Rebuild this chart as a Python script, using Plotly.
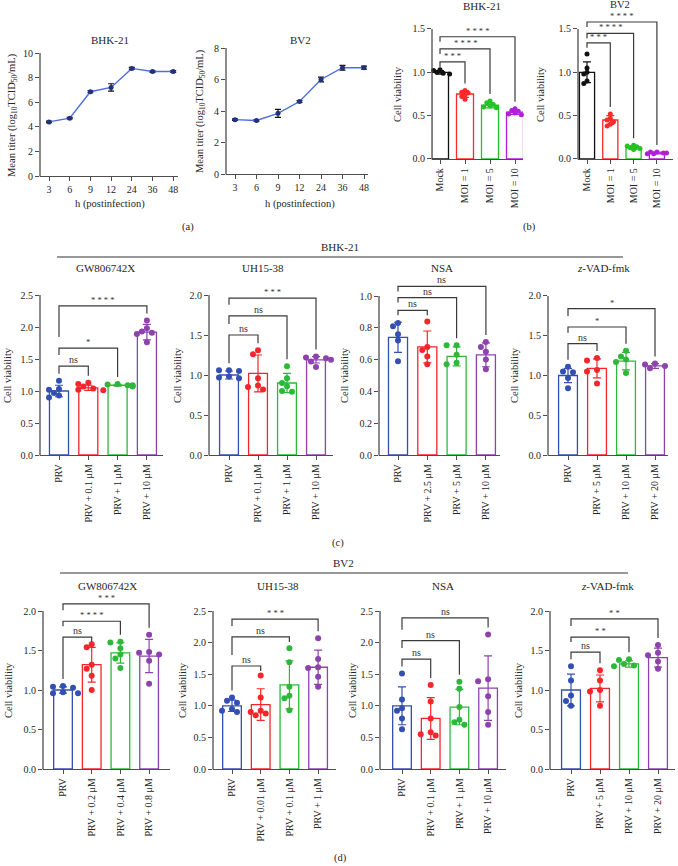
import plotly.graph_objects as go

W, H = 678, 866
FONT = "Liberation Serif"
AXC = "#4d4d4d"
TXT = "#262626"

# ---------------- (a) growth curves ----------------
hours = ["3", "6", "9", "12", "24", "36", "48"]
bhk_titer = [4.4, 4.7, 6.85, 7.2, 8.75, 8.5, 8.5]
bhk_err = [0.06, 0.06, 0.08, 0.3, 0.08, 0.07, 0.07]
bv2_titer = [3.45, 3.4, 3.85, 4.6, 6.0, 6.75, 6.75]
bv2_err = [0.05, 0.05, 0.25, 0.06, 0.15, 0.15, 0.1]

# ---------------- (b) infection dose ----------------
moi_labels = ["Mock", "MOI = 1", "MOI = 5", "MOI = 10"]
b_bhk_mean = [1.0, 0.75, 0.62, 0.54]
b_bhk_sd = [0.02, 0.04, 0.03, 0.025]
b_bhk_pts = [[1.03, 1.02, 1.0, 0.99, 0.98, 0.99], [0.79, 0.77, 0.76, 0.74, 0.72, 0.69],
             [0.67, 0.65, 0.63, 0.61, 0.60, 0.59], [0.58, 0.56, 0.55, 0.53, 0.52, 0.51]]
b_bhk_sig = [(0, 1, 1.12, "***"), (0, 2, 1.27, "****"), (0, 3, 1.41, "****")]
b_bv2_mean = [1.0, 0.45, 0.13, 0.07]
b_bv2_sd = [0.12, 0.05, 0.02, 0.01]
b_bv2_pts = [[1.21, 1.05, 1.0, 0.98, 0.90, 0.87], [0.52, 0.47, 0.45, 0.43, 0.40, 0.38],
             [0.16, 0.15, 0.14, 0.13, 0.12, 0.11], [0.08, 0.08, 0.07, 0.07, 0.06, 0.06]]
b_bv2_sig = [(0, 1, 1.34, "***"), (0, 2, 1.45, "****"), (0, 3, 1.58, "****")]

# ---------------- (c) BHK-21 inhibitors ----------------
c_gw_labels = ["PRV", "PRV + 0.1 μM", "PRV + 1 μM", "PRV + 10 μM"]
c_gw_mean = [1.0, 1.05, 1.09, 1.92]
c_gw_sd = [0.09, 0.04, 0.015, 0.12]
c_gw_pts = [[1.16, 1.03, 1.02, 0.97, 0.93, 0.90], [1.13, 1.11, 1.07, 1.04, 1.02, 1.01],
            [1.11, 1.10, 1.09, 1.09, 1.08, 1.07], [2.10, 1.98, 1.93, 1.91, 1.89, 1.76]]
c_gw_sig = [(0, 1, 1.39, "ns"), (0, 2, 1.67, "*"), (0, 3, 2.33, "****")]

c_uh_labels = ["PRV", "PRV + 0.1 μM", "PRV + 1 μM", "PRV + 10 μM"]
c_uh_mean = [1.0, 1.02, 0.90, 1.19]
c_uh_sd = [0.05, 0.23, 0.12, 0.04]
c_uh_pts = [[1.06, 1.06, 1.05, 0.98, 0.97, 0.96], [1.31, 1.26, 0.96, 0.87, 0.85, 0.82],
            [1.11, 0.96, 0.90, 0.86, 0.80, 0.79], [1.23, 1.22, 1.21, 1.19, 1.17, 1.10]]
c_uh_sig = [(0, 1, 1.50, "ns"), (0, 2, 1.74, "ns"), (0, 3, 1.96, "***")]

c_nsa_labels = ["PRV", "PRV + 2.5 μM", "PRV + 5 μM", "PRV + 10 μM"]
c_nsa_mean = [0.74, 0.68, 0.62, 0.63]
c_nsa_sd = [0.095, 0.10, 0.06, 0.075]
c_nsa_pts = [[0.83, 0.81, 0.76, 0.72, 0.59], [0.84, 0.68, 0.66, 0.62, 0.57],
             [0.69, 0.69, 0.63, 0.58, 0.57], [0.71, 0.68, 0.65, 0.60, 0.54]]
c_nsa_sig = [(0, 1, 0.91, "ns"), (0, 2, 0.99, "ns"), (0, 3, 1.06, "ns")]

c_zvad_labels = ["PRV", "PRV + 5 μM", "PRV + 10 μM", "PRV + 20 μM"]
c_zvad_mean = [1.0, 1.09, 1.18, 1.12]
c_zvad_sd = [0.09, 0.12, 0.11, 0.03]
c_zvad_pts = [[1.11, 1.05, 1.04, 0.97, 0.84], [1.22, 1.19, 1.07, 1.05, 0.90],
              [1.31, 1.24, 1.20, 1.17, 1.03], [1.15, 1.14, 1.12, 1.11, 1.09]]
c_zvad_sig = [(0, 1, 1.40, "ns"), (0, 2, 1.61, "*"), (0, 3, 1.84, "*")]

# ---------------- (d) BV2 inhibitors ----------------
d_gw_labels = ["PRV", "PRV + 0.2 μM", "PRV + 0.4 μM", "PRV + 0.8 μM"]
d_gw_mean = [1.0, 1.32, 1.47, 1.43]
d_gw_sd = [0.04, 0.22, 0.13, 0.21]
d_gw_pts = [[1.05, 1.04, 1.03, 0.97, 0.96, 0.96], [1.58, 1.54, 1.32, 1.27, 1.18, 1.0],
            [1.61, 1.60, 1.53, 1.45, 1.40, 1.28], [1.70, 1.48, 1.47, 1.45, 1.37, 1.08]]
d_gw_sig = [(0, 1, 1.67, "ns"), (0, 2, 1.87, "****"), (0, 3, 2.09, "***")]

d_uh_labels = ["PRV", "PRV + 0.01 μM", "PRV + 0.1 μM", "PRV + 1 μM"]
d_uh_mean = [1.0, 1.02, 1.33, 1.61]
d_uh_sd = [0.09, 0.25, 0.38, 0.27]
d_uh_pts = [[1.13, 1.08, 1.05, 0.95, 0.92, 0.90], [1.48, 1.13, 0.92, 0.90, 0.88, 0.85],
            [1.91, 1.69, 1.30, 1.16, 1.12, 0.93], [2.07, 1.74, 1.61, 1.60, 1.46, 1.30]]
d_uh_sig = [(0, 1, 1.63, "ns"), (0, 2, 2.09, "ns"), (0, 3, 2.37, "***")]

d_nsa_labels = ["PRV", "PRV + 0.1 μM", "PRV + 1 μM", "PRV + 10 μM"]
d_nsa_mean = [1.0, 0.80, 0.98, 1.28]
d_nsa_sd = [0.30, 0.33, 0.28, 0.51]
d_nsa_pts = [[1.51, 1.10, 0.96, 0.92, 0.80, 0.63], [1.33, 1.07, 0.80, 0.58, 0.55, 0.53],
             [1.38, 1.27, 0.98, 0.78, 0.74, 0.70], [2.13, 1.42, 1.39, 1.15, 0.90, 0.70]]
d_nsa_sig = [(0, 1, 1.74, "ns"), (0, 2, 2.03, "ns"), (0, 3, 2.39, "ns")]

d_zvad_labels = ["PRV", "PRV + 5 μM", "PRV + 10 μM", "PRV + 20 μM"]
d_zvad_mean = [1.0, 1.02, 1.33, 1.41]
d_zvad_sd = [0.2, 0.17, 0.04, 0.12]
d_zvad_pts = [[1.30, 1.12, 0.93, 0.86, 0.80], [1.25, 1.12, 1.0, 0.98, 0.80],
              [1.39, 1.38, 1.33, 1.31, 1.30], [1.57, 1.47, 1.44, 1.36, 1.27]]
d_zvad_sig = [(0, 1, 1.48, "ns"), (0, 2, 1.67, "**"), (0, 3, 1.90, "**")]

COL4 = ["#3350b0", "#f5262b", "#2db83a", "#8e42ad"]
COLB = ["#111111", "#ff2a2a", "#22c322", "#b21fd8"]

fig = go.Figure()
layout = dict(width=W, height=H, margin=dict(l=0, r=0, t=0, b=0), template="none",
              paper_bgcolor="white", plot_bgcolor="white", showlegend=False,
              font=dict(family=FONT, size=10, color=TXT))
shapes, annotations = [], []


def text(px, py, s, size=11, angle=0, xanchor="center", yanchor="middle"):
    annotations.append(dict(x=px / W, y=1 - py / H, xref="paper", yref="paper", text=s,
                            showarrow=False, textangle=angle, xanchor=xanchor, yanchor=yanchor,
                            font=dict(family=FONT, size=size, color=TXT)))


def setup_axes(n, geo, yticks, xticktext, tickangle, yfmt):
    xl, xr, c0, s, py0, scale, rtop = geo
    sfx = "" if n == 1 else str(n)
    tf = dict(family=FONT, size=10, color=TXT)
    layout["xaxis" + sfx] = dict(domain=[xl / W, xr / W], range=[(xl - c0) / s, (xr - c0) / s],
                                 anchor="y" + sfx, showline=True, linecolor=AXC, linewidth=1.3,
                                 ticks="outside", ticklen=4, tickwidth=1.2, tickcolor=AXC,
                                 tickvals=list(range(len(xticktext))), ticktext=xticktext,
                                 tickangle=tickangle, showgrid=False, zeroline=False,
                                 tickfont=tf, automargin=False, fixedrange=True)
    layout["yaxis" + sfx] = dict(domain=[1 - py0 / H, 1 - (py0 - rtop * scale) / H], range=[0, rtop],
                                 anchor="x" + sfx, showline=False, ticks="outside", ticklen=4,
                                 tickwidth=1.2, tickcolor=AXC, tickvals=yticks, tickformat=yfmt,
                                 showgrid=False, zeroline=False, tickfont=tf, automargin=False,
                                 fixedrange=True)
    shapes.append(dict(type="line", xref="paper", yref="paper", x0=xl / W, x1=xl / W,
                       y0=1 - (py0 + 0.6) / H, y1=1 - (py0 - yticks[-1] * scale) / H,
                       line=dict(color=AXC, width=1.3)))
    return "x" + sfx, "y" + sfx


def swarm(vals, sy, sx, d=5.0, mind=5.6):
    placed, xs = [], [0.0] * len(vals)
    order = sorted(range(len(vals)), key=lambda k: -vals[k])
    for k in order:
        py = vals[k] * sy
        choice = 3 * d
        for off in [0, -d, d, -2 * d, 2 * d, -3 * d, 3 * d]:
            if all((off - qx) ** 2 + (py - qy) ** 2 >= mind ** 2 for qx, qy in placed):
                choice = off
                break
        placed.append((choice, py))
        xs[k] = choice / sx
    return xs


def bar_panel(n, geo, yticks, labels, means, sds, pts, sig, colors, bw, msize=6, d=5.0, mind=5.6):
    xr_, yr_ = setup_axes(n, geo, yticks, labels, -90, ".1f")
    xl, xr, c0, s, py0, scale, rtop = geo
    for i in range(len(labels)):
        fig.add_trace(go.Bar(x=[i], y=[means[i]], width=bw, xaxis=xr_, yaxis=yr_,
                             marker=dict(color="rgba(255,255,255,0)", line=dict(color=colors[i], width=1.3)),
                             error_y=dict(type="data", array=[sds[i]], color=colors[i], thickness=1.2, width=4)))
    for i in range(len(labels)):
        offs = swarm(pts[i], scale, s, d, mind)
        fig.add_trace(go.Scatter(x=[i + o for o in offs], y=pts[i], mode="markers", xaxis=xr_, yaxis=yr_,
                                 marker=dict(color=colors[i], size=msize), cliponaxis=False))
    tops = [max(max(pts[i]), means[i] + sds[i]) for i in range(len(labels))]
    prev = None
    for (i, j, y, lab) in sorted(sig, key=lambda t: t[2]):
        lb = tops[i] + 7 / scale
        if prev is not None:
            lb = max(lb, prev + 11 / scale)
        lb = min(lb, y - 5 / scale)
        rb = min(tops[j] + 7 / scale, y - 5 / scale)
        shapes.append(dict(type="path", xref=xr_, yref=yr_,
                           path=f"M {i},{lb} L {i},{y} L {j},{y} L {j},{rb}",
                           line=dict(color="#3a3a3a", width=1.2)))
        star = lab != "ns"
        annotations.append(dict(x=(i + j) / 2, y=y, xref=xr_, yref=yr_,
                                text=" ".join(lab) if star else lab, showarrow=False,
                                yanchor="bottom", yshift=-1,
                                font=dict(family=FONT, size=8.5 if star else 10, color="#333")))
        prev = y


# ---------- (a) ----------
for n, geo, yt, vals, errs in [
    (1, (40, 178, 49, 20.7, 176, 12.3, 10), [0, 2, 4, 6, 8, 10], bhk_titer, bhk_err),
    (2, (226, 368, 235, 21.5, 174, 15.75, 8), [0, 2, 4, 6, 8], bv2_titer, bv2_err),
]:
    xr_, yr_ = setup_axes(n, geo, yt, hours, 0, "d")
    fig.add_trace(go.Scatter(x=list(range(len(hours))), y=vals, xaxis=xr_, yaxis=yr_, mode="lines+markers",
                             line=dict(color="#4a6ee0", width=1.4), marker=dict(color="#23307a", size=5),
                             error_y=dict(type="data", array=errs, color="#111", thickness=1.2, width=3),
                             cliponaxis=False))

text(110, 40, "BHK-21", 11)
text(300, 40, "BV2", 11)
text(110, 204, "h (postinfection)", 10.5)
text(300, 204, "h (postinfection)", 10.5)
ytitle = "Mean titer (log<sub>10</sub>TCID<sub>50</sub>/mL)"
text(13, 115, ytitle, 10.5, -90)
text(200, 111, ytitle, 10.5, -90)
text(188, 227, "(a)", 10.5)

# ---------- (b) ----------
bar_panel(3, (432, 523, 440, 25, 159, 86.7, 1.62), [0, 0.5, 1.0, 1.5], moi_labels,
          b_bhk_mean, b_bhk_sd, b_bhk_pts, b_bhk_sig, COLB, 0.68, msize=5, d=3.2, mind=3.6)
bar_panel(4, (578, 673, 587, 23.3, 159, 86.7, 1.72), [0, 0.5, 1.0, 1.5], moi_labels,
          b_bv2_mean, b_bv2_sd, b_bv2_pts, b_bv2_sig, COLB, 0.65, msize=5, d=3.2, mind=3.6)
text(482, 6, "BHK-21", 11)
text(620, 5, "BV2", 10.5)
text(397, 94, "Cell viability", 10.5, -90)
text(540, 94, "Cell viability", 10.5, -90)
text(529, 227, "(b)", 10.5)

# ---------- (c) ----------
bar_panel(5, (40, 163, 59, 29.3, 455, 64, 2.55), [0, 0.5, 1.0, 1.5, 2.0, 2.5], c_gw_labels,
          c_gw_mean, c_gw_sd, c_gw_pts, c_gw_sig, COL4, 0.65)
bar_panel(6, (209, 333, 229, 29, 455, 80, 2.1), [0, 0.5, 1.0, 1.5, 2.0], c_uh_labels,
          c_uh_mean, c_uh_sd, c_uh_pts, c_uh_sig, COL4, 0.65)
bar_panel(7, (379, 500, 398, 29.3, 455, 159, 1.1), [0, 0.2, 0.4, 0.6, 0.8, 1.0], c_nsa_labels,
          c_nsa_mean, c_nsa_sd, c_nsa_pts, c_nsa_sig, COL4, 0.65)
bar_panel(8, (548, 668, 568, 29, 455, 79.5, 2.05), [0, 0.5, 1.0, 1.5, 2.0], c_zvad_labels,
          c_zvad_mean, c_zvad_sd, c_zvad_pts, c_zvad_sig, COL4, 0.65)
text(340, 247, "BHK-21", 11)
shapes.append(dict(type="line", xref="paper", yref="paper", x0=57 / W, x1=623 / W,
                   y0=1 - 257 / H, y1=1 - 257 / H, line=dict(color="#333", width=1.2)))
for px, s in [(105, "GW806742X"), (263, "UH15-38"), (442, "NSA"), (603, "<i>z</i>-VAD-fmk")]:
    text(px, 268, s, 11)
for px in [8, 178, 345, 515]:
    text(px, 375, "Cell viability", 10.5, -90)
text(338, 543, "(c)", 10.5)

# ---------- (d) ----------
bar_panel(9, (43, 170, 63, 28.7, 769, 79, 2.2), [0, 0.5, 1.0, 1.5, 2.0], d_gw_labels,
          d_gw_mean, d_gw_sd, d_gw_pts, d_gw_sig, COL4, 0.65)
bar_panel(10, (213, 336, 232, 28.7, 769, 63.2, 2.55), [0, 0.5, 1.0, 1.5, 2.0, 2.5], d_uh_labels,
          d_uh_mean, d_uh_sd, d_uh_pts, d_uh_sig, COL4, 0.65)
bar_panel(11, (380, 506, 402, 28.7, 769, 63.2, 2.55), [0, 0.5, 1.0, 1.5, 2.0, 2.5], d_nsa_labels,
          d_nsa_mean, d_nsa_sd, d_nsa_pts, d_nsa_sig, COL4, 0.65)
bar_panel(12, (550, 675, 571, 29, 769, 79, 2.05), [0, 0.5, 1.0, 1.5, 2.0], d_zvad_labels,
          d_zvad_mean, d_zvad_sd, d_zvad_pts, d_zvad_sig, COL4, 0.65)
text(343, 563, "BV2", 11)
shapes.append(dict(type="line", xref="paper", yref="paper", x0=60 / W, x1=628 / W,
                   y0=1 - 573 / H, y1=1 - 573 / H, line=dict(color="#333", width=1.2)))
for px, s in [(107, "GW806742X"), (278, "UH15-38"), (443, "NSA"), (607, "<i>z</i>-VAD-fmk")]:
    text(px, 586, s, 11)
for px in [8, 182, 352, 518]:
    text(px, 690, "Cell viability", 10.5, -90)
text(340, 858, "(d)", 10.5)

layout["shapes"] = shapes
layout["annotations"] = annotations
fig.update_layout(**layout)
fig.write_html("out.html")
